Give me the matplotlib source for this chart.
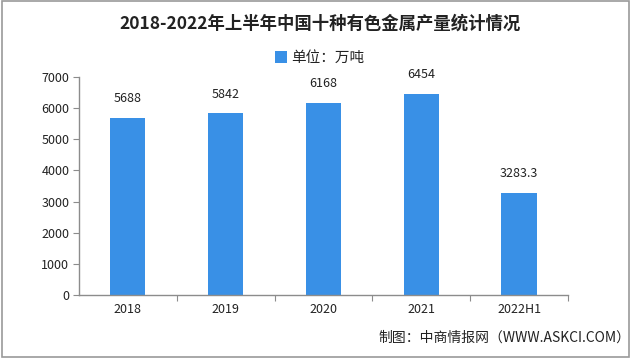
import matplotlib
matplotlib.use("Agg")
import matplotlib.pyplot as plt
from matplotlib.patches import Rectangle

plt.rcParams["font.family"] = ["Noto Sans CJK SC", "DejaVu Sans"]

years = ["2018", "2019", "2020", "2021", "2022H1"]
output = [5688, 5842, 6168, 6454, 3283.3]
value_labels = ["5688", "5842", "6168", "6454", "3283.3"]
y_ticks = [0, 1000, 2000, 3000, 4000, 5000, 6000, 7000]

BAR_COLOR = "#3990E6"
AXIS_COLOR = "#8c8c8c"


def generate_figure():
    fig = plt.figure(figsize=(6.4, 3.58), dpi=100)
    ax = fig.add_axes([0.1234, 0.176, 0.7641, 0.609])

    xs = list(range(len(years)))
    ax.bar(xs, output, width=0.36, color=BAR_COLOR, label="单位：万吨", zorder=2)
    for x, v, s in zip(xs, output, value_labels):
        ax.annotate(s, (x, v), xytext=(0, 9), textcoords="offset points",
                    ha="center", va="bottom", fontsize=9, color="#222222")

    ax.set_xlim(-0.5, len(years) - 0.5)
    ax.set_ylim(0, 7000)
    ax.set_yticks(y_ticks)
    ax.set_yticklabels([str(t) for t in y_ticks], fontsize=9, color="#222222")
    # category ticks sit between bars
    ax.set_xticks([x + 0.5 for x in xs], minor=False)
    ax.set_xticklabels([])
    ax.set_xticks(xs, minor=True)
    ax.set_xticklabels(years, minor=True, fontsize=9, color="#222222")
    ax.tick_params(axis="x", which="minor", length=0, pad=6)
    ax.tick_params(axis="x", which="major", length=4, color=AXIS_COLOR)
    ax.tick_params(axis="y", length=4, color=AXIS_COLOR, pad=3)

    for side in ["top", "right"]:
        ax.spines[side].set_visible(False)
    for side in ["left", "bottom"]:
        ax.spines[side].set_color(AXIS_COLOR)
        ax.spines[side].set_linewidth(1.0)

    fig.text(0.5, 0.935, "2018-2022年上半年中国十种有色金属产量统计情况",
             ha="center", va="center", fontsize=12.5, fontweight="bold", color="#222222")
    leg = fig.legend(loc="center", bbox_to_anchor=(0.5, 0.838), frameon=False,
                     fontsize=10.5, handlelength=0.8, handleheight=0.8, handletextpad=0.3)
    for t in leg.get_texts():
        t.set_color("#222222")
    fig.text(0.985, 0.058, "制图：中商情报网（WWW.ASKCI.COM）",
             ha="right", va="center", fontsize=10, color="#222222")

    fig.patches.append(Rectangle((0.003, 0.004), 0.980, 0.993, transform=fig.transFigure,
                                 fill=False, edgecolor="#9a9a9a", linewidth=1.2))
    fig.savefig("out.png", dpi=100)


if __name__ == "__main__":
    generate_figure()
